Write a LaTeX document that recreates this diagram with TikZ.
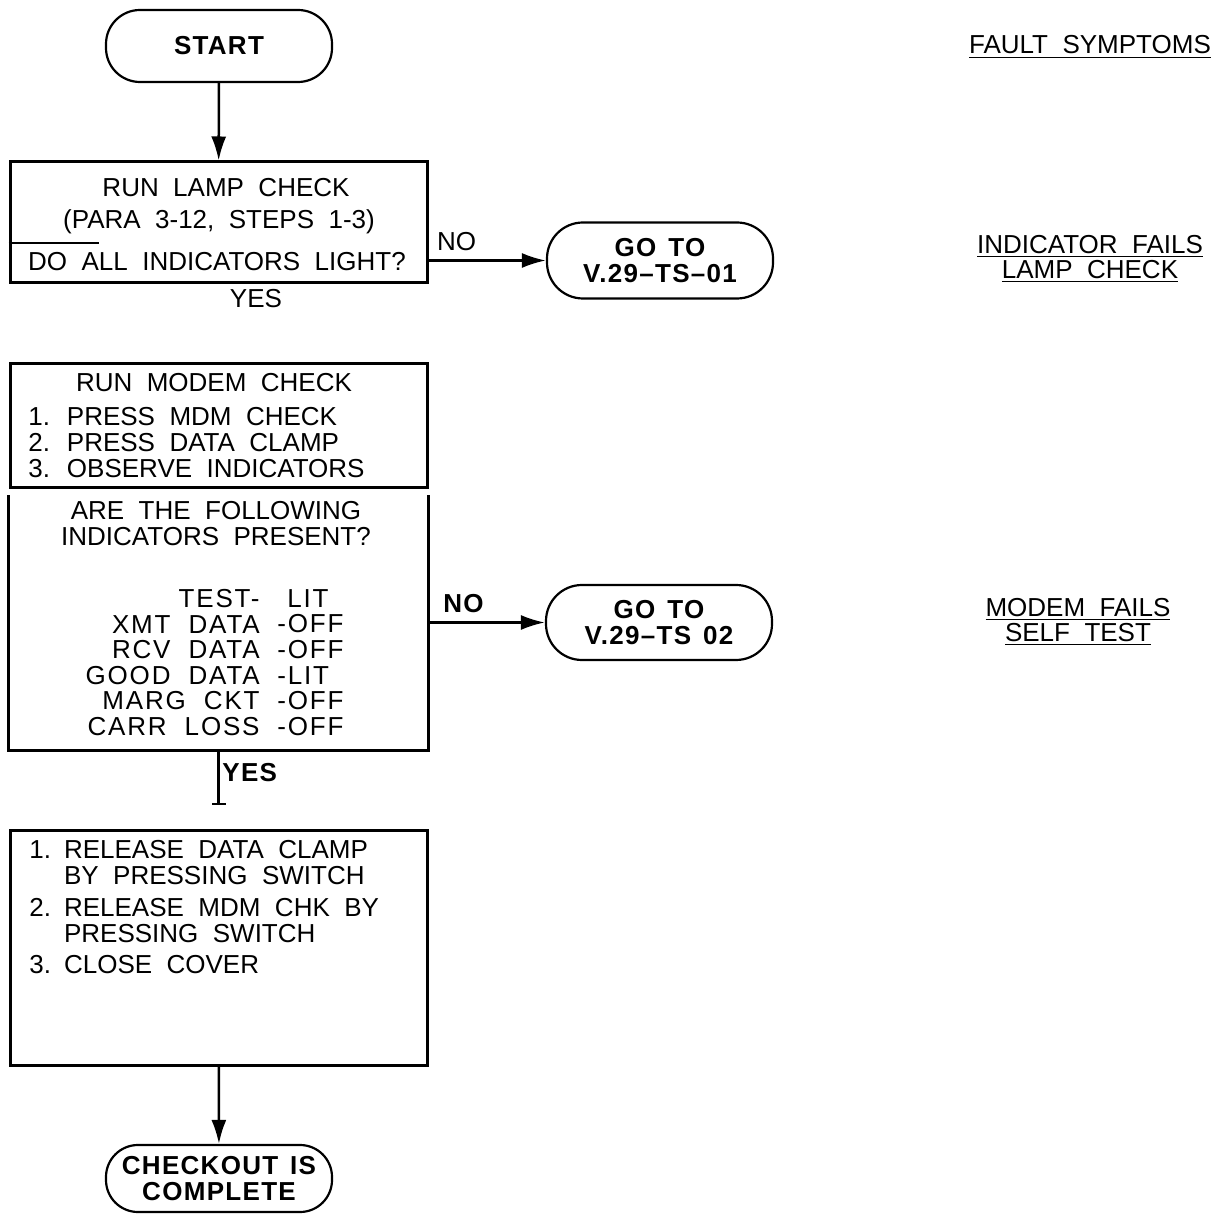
\documentclass[tikz,border=0pt]{standalone}
\usepackage{fontspec}
\setmainfont{Liberation Sans}[WordSpace=2]
\newfontfamily\chartbold{Liberation Sans}[LetterSpace=5,WordSpace=1.4]
\newfontfamily\chartwide{Liberation Sans}[LetterSpace=7,WordSpace=2]
\usetikzlibrary{arrows.meta,positioning}
\newcommand\chartsize{\fontsize{13}{12.8}\selectfont}
\tikzset{
	boxline/.style={line width=1.5pt},
	stepbox/.style={boxline,draw,minimum width=208.5pt,inner sep=0pt},
	terminal/.style={draw,line width=1.1pt,minimum width=113pt,align=center,inner sep=0pt,font=\chartsize\chartbold\bfseries},
	flow/.style={line width=1.25pt,-{Latex[length=12pt,width=7.5pt]}},
	boxtext/.style={inner sep=0pt},
	symptom/.style={inner sep=0pt,align=center},
}
\begin{document}
\begin{tikzpicture}[x=0.5pt,y=-0.5pt,font=\chartsize]
		\useasboundingbox (0,0) rectangle (1226,1218);
		
		% lamp check
		\node[terminal,minimum height=36pt,rounded corners=17pt] (start) at (219,46) {START};
		\node[stepbox,minimum height=60.5pt] (lampbox) at (218.5,222.5) {};
		\node[boxtext,anchor=base] (lamptitle) at (226,197) {RUN LAMP CHECK};
		\node[boxtext,anchor=base] (lamppara) at (219,229) {(PARA 3-12, STEPS 1-3)};
		\node[boxtext,anchor=base] (lampask) at (217,271) {DO ALL INDICATORS LIGHT?};
		\coordinate (lampsep) at (99,243);
		\draw[line width=1.2pt] (lampbox.west |- lampsep) -- (lampsep);
		\node[boxtext,anchor=base] (lampyes) at (256,308) {YES};
		\draw[flow] (start) -- (lampbox);
		
		\node[terminal,minimum height=38pt,rounded corners=18pt] (gotoone) at (660,260.5) {GO TO\\V.29\textendash TS\textendash 01};
		\draw[flow] (lampbox.east |- gotoone.west) -- (gotoone.west) node[pos=.24,above=1pt] {NO};
		
		% modem check
		\node[stepbox,minimum height=62pt] (modembox) at (218.5,426) {};
		\node[boxtext,anchor=base] (modemtitle) at (214,392) {RUN MODEM CHECK};
		\node[boxtext,anchor=west,align=left] (modemsteps) at (28,442.5) {1. PRESS MDM CHECK\\2. PRESS DATA CLAMP\\3. OBSERVE INDICATORS};
		
		\node[boxline,minimum width=208.5pt,minimum height=126pt,inner sep=0pt] (askbox) at (218.5,623) {};
		\draw[boxline] (askbox.north west) -- (askbox.south west) -- (askbox.south east) -- (askbox.north east);
		\node[boxtext,align=center] (askq) at (216,523.5) {ARE THE FOLLOWING\\INDICATORS PRESENT?};
		\node[boxtext,anchor=east,align=right,font=\chartsize\chartwide] (askname) at (260,662.5) {TEST-\\XMT DATA\\RCV DATA\\GOOD DATA\\MARG CKT\\CARR LOSS};
		\node[boxtext,anchor=west,align=left,font=\chartsize\chartwide] (askstate) at (277,662.5) {\hspace*{5pt}LIT\\-OFF\\-OFF\\-LIT\\-OFF\\-OFF};
		
		\node[terminal,minimum height=37.5pt,rounded corners=18pt] (gototwo) at (659,622.5) {GO TO\\V.29\textendash TS 02};
		\draw[flow] (askbox.east |- gototwo.west) -- (gototwo.west) node[pos=.3,above=1pt,font=\chartsize\chartbold\bfseries] {NO};
		
		\coordinate (yesend) at (218.5,805);
		\draw[line width=1.25pt,-{Bar[width=7pt]}] (askbox.south) -- (yesend) node[pos=.4,right=-2pt,font=\chartsize\chartbold\bfseries] {YES};
		
		% release
		\node[stepbox,minimum height=117.5pt] (releasebox) at (218.5,947.5) {};
		\node[boxtext,anchor=north west] (releasesteps) at (29,840) {%
			\begin{tabular}{@{}l@{\hspace{6.5pt}}l@{}}
				1. & RELEASE DATA CLAMP\\
				& BY PRESSING SWITCH\\[3pt]
				2. & RELEASE MDM CHK BY\\
				& PRESSING SWITCH\\[3pt]
				3. & CLOSE COVER
			\end{tabular}};
		
		\node[terminal,minimum height=33.5pt,rounded corners=16pt] (finish) at (219,1178.5) {CHECKOUT IS\\COMPLETE};
		\draw[flow] (releasebox) -- (finish);
		
		% symptoms
		\node[symptom] (faulthead) at (1090,47) {\underline{FAULT SYMPTOMS}};
		\node[symptom] (lampfault) at (1090,259) {\underline{INDICATOR FAILS}\\\underline{LAMP CHECK}};
		\node[symptom] (modemfault) at (1078,622) {\underline{MODEM FAILS}\\\underline{SELF TEST}};
		
	\end{tikzpicture}
\end{document}
